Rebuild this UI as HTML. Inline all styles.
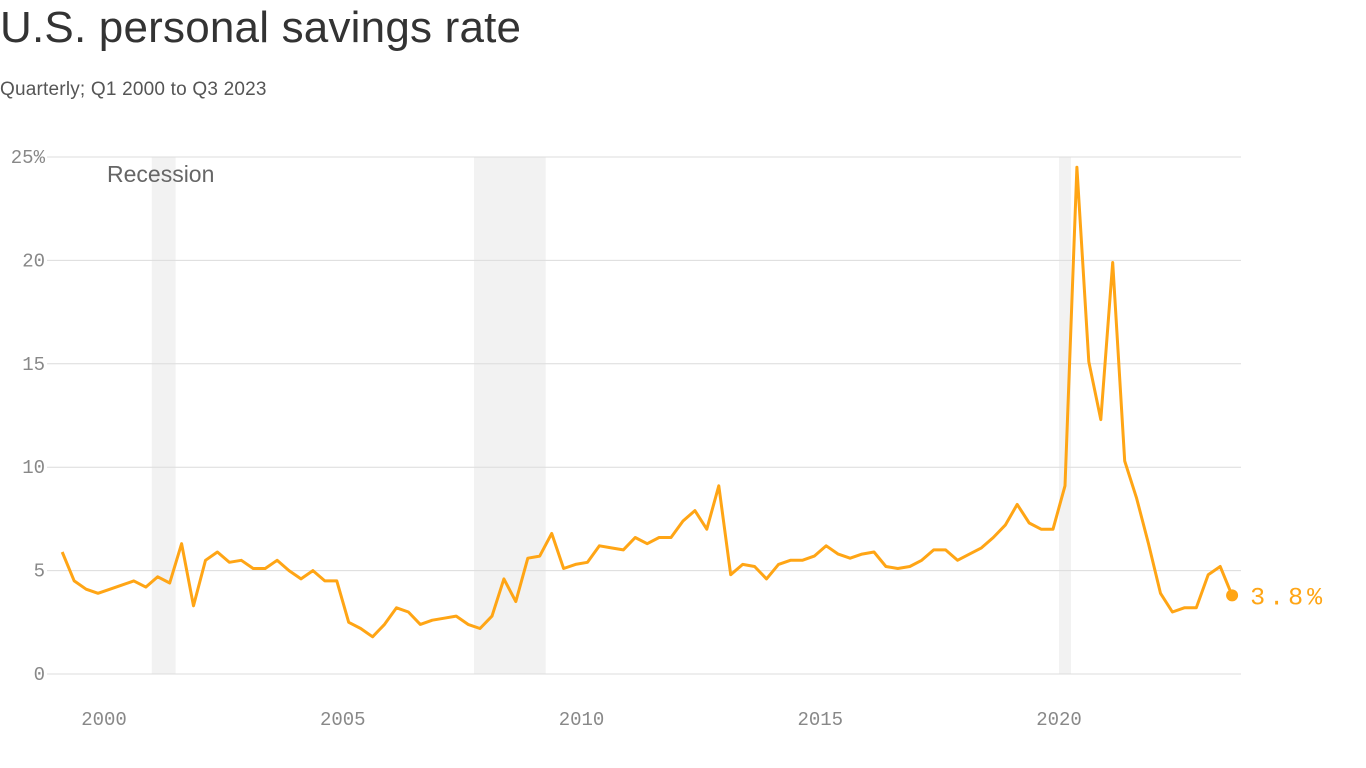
<!DOCTYPE html>
<html><head><meta charset="utf-8"><style>
body{margin:0;background:#fff;width:1366px;height:768px;overflow:hidden;font-family:"Liberation Sans",sans-serif}
#title{position:absolute;left:0;top:3px;font-size:44px;color:#333;letter-spacing:0.2px;margin:0;font-weight:normal}
#sub{position:absolute;left:0;top:79px;font-size:19px;color:#555;letter-spacing:0.2px}
svg{position:absolute;left:0;top:0}
</style></head><body>
<h1 id="title">U.S. personal savings rate</h1>
<div id="sub">Quarterly; Q1 2000 to Q3 2023</div>
<svg id="chart" width="1366" height="768"></svg>
<script>
const values=[5.9,4.5,4.1,3.9,4.1,4.3,4.5,4.2,4.7,4.4,6.3,3.3,5.5,5.9,5.4,5.5,5.1,5.1,5.5,5.0,4.6,5.0,4.5,4.5,2.5,2.2,1.8,2.4,3.2,3.0,2.4,2.6,2.7,2.8,2.4,2.2,2.8,4.6,3.5,5.6,5.7,6.8,5.1,5.3,5.4,6.2,6.1,6.0,6.6,6.3,6.6,6.6,7.4,7.9,7.0,9.1,4.8,5.3,5.2,4.6,5.3,5.5,5.5,5.7,6.2,5.8,5.6,5.8,5.9,5.2,5.1,5.2,5.5,6.0,6.0,5.5,5.8,6.1,6.6,7.2,8.2,7.3,7.0,7.0,9.1,24.5,15.1,12.3,19.9,10.3,8.5,6.3,3.9,3.0,3.2,3.2,4.8,5.2,3.8];
const startYear=1999;
const yTicks=[0,5,10,15,20,25];
const xTicks=[2000,2005,2010,2015,2020];
const recessionStarts=[2001.0,2007.75,2020.0];
const recessionEnds=[2001.5,2009.25,2020.25];
const NS="http://www.w3.org/2000/svg";
const svg=document.getElementById('chart');
const x=t=>104+(t-2000)*47.75;
const y=v=>674-v*20.68;
function mk(tag,attrs,parent){const e=document.createElementNS(NS,tag);for(const k in attrs)e.setAttribute(k,attrs[k]);(parent||svg).appendChild(e);return e;}
recessionStarts.forEach((s,i)=>{
  const r=mk('rect',{x:x(s),y:y(25),width:x(recessionEnds[i])-x(s),height:y(0)-y(25),fill:'#f2f2f2'});
  
  
});
yTicks.forEach(v=>{
  const l=mk('line',{x1:47,x2:1241,y1:y(v),y2:y(v),stroke:'#dcdcdc','stroke-width':1});
  
  
  const t=mk('text',{x:45,y:y(v)+6,'text-anchor':'end','font-family':'Liberation Mono, monospace','font-size':19,fill:'#888'});
  t.textContent=v===25?'25%':String(v);
  
  
});
const rl=mk('text',{x:107,y:182,'font-size':23,fill:'#666','font-family':'Liberation Sans, sans-serif'});
rl.textContent='Recession';


xTicks.forEach(yr=>{
  const t=mk('text',{x:x(yr),y:725,'text-anchor':'middle','font-family':'Liberation Mono, monospace','font-size':19,fill:'#888'});
  t.textContent=String(yr);
  
  
});
const pts=values.map((v,i)=>x(startYear+i*0.25+0.125).toFixed(1)+','+y(v).toFixed(1)).join(' ');
const line=mk('polyline',{points:pts,fill:'none',stroke:'#ffa515','stroke-width':3,'stroke-linejoin':'round'});


const li=values.length-1;
const lx=x(startYear+li*0.25+0.125), ly=y(values[li]);
const dot=mk('circle',{cx:lx,cy:ly,r:6,fill:'#ffa515'});


const lab=mk('text',{x:lx+18,y:ly+9,'font-family':'Liberation Mono, monospace','font-size':25,fill:'#ffa515','letter-spacing':'4'});
lab.textContent=values[li].toFixed(1)+'%';


</script>
</body></html>
